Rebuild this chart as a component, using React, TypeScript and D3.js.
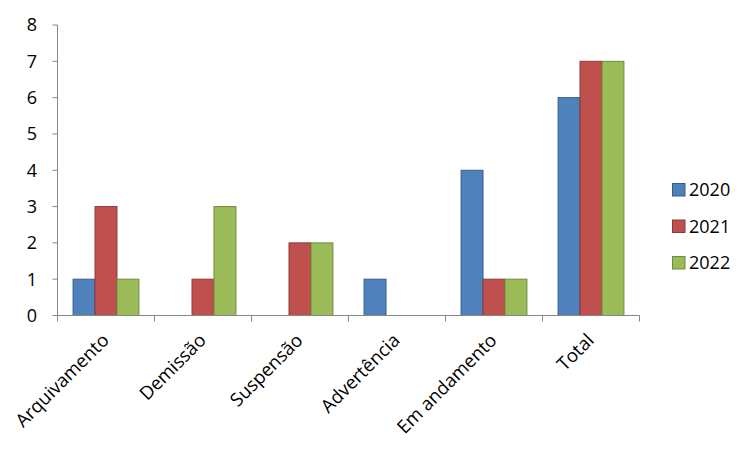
import React from "react";
import * as d3 from "d3";

const categories = ["Arquivamento", "Demissão", "Suspensão", "Advertência", "Em andamento", "Total"];
const seriesNames = ["2020", "2021", "2022"];
const values2020 = [1, 0, 0, 1, 4, 6];
const values2021 = [3, 1, 2, 0, 1, 7];
const values2022 = [1, 3, 2, 0, 1, 7];
const yTicks = [0, 1, 2, 3, 4, 5, 6, 7, 8];

const fills = ["#4F81BD", "#C0504D", "#9BBB59"];
const strokes = ["#385D8A", "#8C3836", "#71893F"];

export default function App() {
  const W = 754, H = 454;
  const left = 57.5, right = 639.5, top = 25, bottom = 315.5;
  const font = "'Open Sans', sans-serif";
  const series = [values2020, values2021, values2022];

  const x = d3.scaleBand<string>().domain(categories).range([left, right]).paddingInner(0).paddingOuter(0);
  const inner = d3.scaleBand<string>().domain(seriesNames).range([0, x.bandwidth()]).paddingOuter(0.71).paddingInner(0);
  const y = d3.scaleLinear().domain([0, 8]).range([bottom, top]);

  const bounds = [left, ...categories.map((c) => (x(c) as number) + x.bandwidth())];

  return (
    <svg width={W} height={H} style={{ position: "absolute", left: 0, top: 0, background: "#fff" }}>
      {series.map((vals, si) =>
        vals.map((v, ci) =>
          v > 0 ? (
            <rect
              key={`${si}-${ci}`}
              x={(x(categories[ci]) as number) + (inner(seriesNames[si]) as number)}
              y={y(v)}
              width={inner.bandwidth()}
              height={y(0) - y(v)}
              fill={fills[si]}
              stroke={strokes[si]}
              strokeWidth={1}
            />
          ) : null
        )
      )}
      <line x1={left} x2={left} y1={top} y2={bottom} stroke="#868686" strokeWidth={1} />
      {yTicks.map((t) => (
        <g key={t}>
          <line x1={left - 5} x2={left} y1={y(t)} y2={y(t)} stroke="#868686" />
          <text x={37} y={y(t)} dy="0.36em" textAnchor="end" fontFamily={font} fontSize={18} fill="#000">
            {t}
          </text>
        </g>
      ))}
      <line x1={left} x2={right} y1={bottom} y2={bottom} stroke="#868686" strokeWidth={1} />
      {bounds.map((b, i) => (
        <line key={i} x1={b} x2={b} y1={bottom} y2={bottom + 6} stroke="#868686" />
      ))}
      {categories.map((c) => {
        const cx = (x(c) as number) + x.bandwidth() / 2 + 4;
        const cy = bottom + 26;
        return (
          <text
            key={c}
            x={cx}
            y={cy}
            textAnchor="end"
            transform={`rotate(-45 ${cx} ${cy})`}
            fontFamily={font}
            fontSize={18.5}
            fill="#000"
          >
            {c}
          </text>
        );
      })}
      {seriesNames.map((s, i) => {
        const ly = 190 + i * 36.5;
        return (
          <g key={s}>
            <rect x={672.5} y={ly - 6.5} width={12.5} height={12.5} fill={fills[i]} stroke={strokes[i]} />
            <text x={689} y={ly} dy="0.36em" fontFamily={font} fontSize={18} fill="#000">
              {s}
            </text>
          </g>
        );
      })}
    </svg>
  );
}
